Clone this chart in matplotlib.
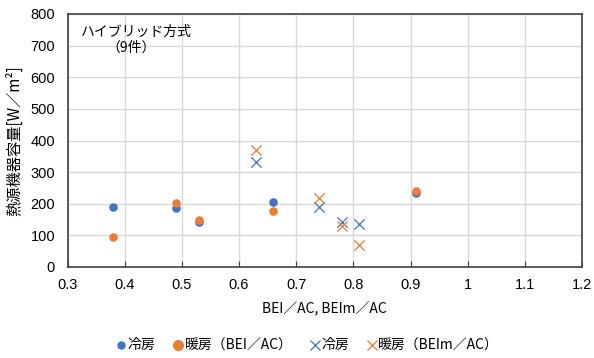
import matplotlib
matplotlib.use("Agg")
import matplotlib.pyplot as plt
from matplotlib.lines import Line2D

plt.rcParams['font.family'] = ['Noto Sans CJK JP', 'DejaVu Sans']

# 冷房 / 暖房 (BEI/AC)
bei_x = [0.38, 0.49, 0.53, 0.66, 0.91]
bei_cool = [190, 187, 141, 204, 234]
bei_heat = [94, 203, 150, 178, 239]
# 冷房 / 暖房 (BEIm/AC)
beim_x = [0.63, 0.74, 0.78, 0.81]
beim_cool = [331, 190, 142, 135]
beim_heat = [370, 217, 129, 68]

xticks = [0.3, 0.4, 0.5, 0.6, 0.7, 0.8, 0.9, 1.0, 1.1, 1.2]
xticklabels = ['0.3', '0.4', '0.5', '0.6', '0.7', '0.8', '0.9', '1', '1.1', '1.2']
yticks = [0, 100, 200, 300, 400, 500, 600, 700, 800]

blue = '#4472C4'
orange = '#ED7D31'

fig = plt.figure(figsize=(5.94, 3.58), dpi=100)
ax = fig.add_axes([67.5/594, 1-267/358, (582-67.5)/594, (267-14)/358])

ax.scatter(bei_x, bei_cool, s=38, color=blue, marker='o', zorder=3, linewidths=0)
ax.scatter(bei_x, bei_heat, s=38, color=orange, marker='o', zorder=4, linewidths=0)
ax.scatter(beim_x, beim_cool, s=55, color=blue, marker='x', zorder=3, linewidths=0.9)
ax.scatter(beim_x, beim_heat, s=55, color=orange, marker='x', zorder=4, linewidths=0.9)

ax.set_xlim(0.3, 1.2)
ax.set_ylim(0, 800)
ax.set_xticks(xticks)
ax.set_xticklabels(xticklabels)
ax.set_yticks(yticks)
ax.grid(True, color='#D9D9D9', linewidth=1.0, zorder=0)
ax.set_axisbelow(True)
for s in ax.spines.values():
    s.set_color('#404040')
    s.set_linewidth(1.2)
ax.tick_params(axis='x', direction='in', length=4, color='#404040', labelsize=10.5, pad=8)
ax.tick_params(axis='y', length=0, labelsize=10.5, pad=9)
for lab in ax.get_xticklabels() + ax.get_yticklabels():
    lab.set_family(['Liberation Sans Narrow', 'Liberation Sans', 'DejaVu Sans'])

ax.set_xlabel('BEI／AC, BEIm／AC', fontsize=10, labelpad=7)
ax.set_ylabel('熱源機器容量[W／m²]', fontsize=11, labelpad=5)

ax.text(0.027, 0.93, 'ハイブリッド方式', transform=ax.transAxes, fontsize=10, va='center', ha='left')
ax.text(0.075, 0.865, '（9件）', transform=ax.transAxes, fontsize=10, va='center', ha='left')

handles = [
    Line2D([], [], marker='o', color=blue, linestyle='none', markersize=5),
    Line2D([], [], marker='o', color=orange, linestyle='none', markersize=7),
    Line2D([], [], marker='x', color=blue, linestyle='none', markersize=6.5, markeredgewidth=0.9),
    Line2D([], [], marker='x', color=orange, linestyle='none', markersize=6.5, markeredgewidth=0.9),
]
labels = ['冷房', '暖房（BEI／AC）', '冷房', '暖房（BEIm／AC）']
fig.legend(handles, labels, loc='center', bbox_to_anchor=(0.517, 0.035), ncol=4, frameon=False,
           fontsize=10, handletextpad=0.0, columnspacing=1.2, handlelength=0.9)

fig.savefig('out.png', dpi=100)
